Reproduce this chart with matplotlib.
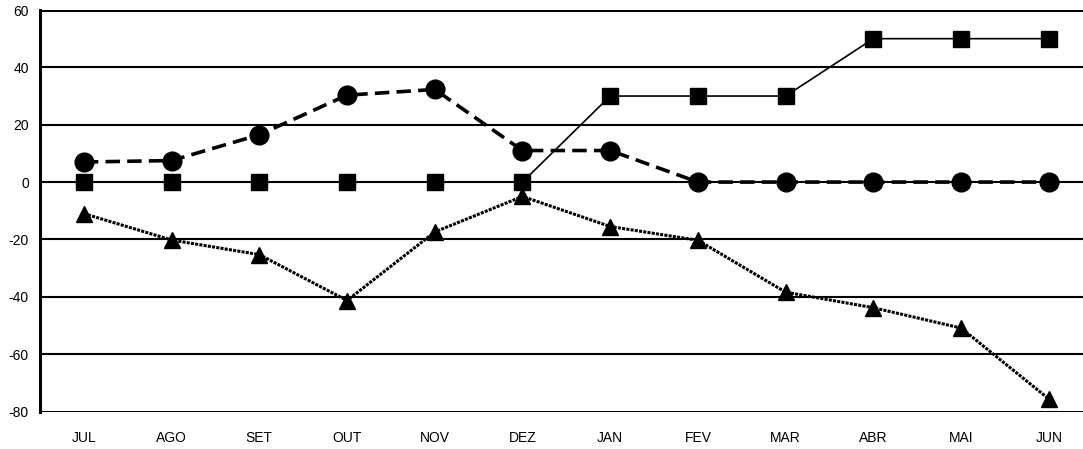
import numpy as np
import matplotlib
matplotlib.use("Agg")
import matplotlib.pyplot as plt

plt.rcParams['font.family'] = ['Liberation Sans', 'DejaVu Sans']
plt.rcParams['axes.unicode_minus'] = False

meses = ['JUL', 'AGO', 'SET', 'OUT', 'NOV', 'DEZ', 'JAN', 'FEV', 'MAR', 'ABR', 'MAI', 'JUN']
quadrados = [0, 0, 0, 0, 0, 0, 30, 30, 30, 50, 50, 50]
circulos = [7, 7.5, 16.5, 30.3, 32.3, 11, 11, 0, 0, 0, 0, 0]
triangulos = [-11, -20.2, -25.3, -41.3, -17.4, -5, -15.5, -20.3, -38.4, -43.8, -50.9, -75.6]
y_ticks = [-80, -60, -40, -20, 0, 20, 40, 60]


def main():
    fig = plt.figure(figsize=(10.83, 4.49), dpi=100)
    ax = fig.add_axes([40 / 1083, 1 - 411.5 / 449, 1 - 40 / 1083, (411.5 - 10) / 449])
    x = np.arange(len(meses))

    # linhas de grade horizontais
    for v in y_ticks:
        lw = 2.2 if v in (-80, 60) else 1.5
        ax.axhline(v, color='black', lw=lw, zorder=1)

    ax.plot(x, quadrados, '-', color='black', lw=1.2, marker='s', ms=12, zorder=3)
    ax.plot(x, circulos, color='black', lw=2.6, ls=(0, (4, 2)), marker='o', ms=13.5, zorder=3)
    ax.plot(x, triangulos, color='black', lw=2.2, ls=(0, (1, 0.4)), marker='^', ms=12, zorder=3)

    ax.set_xlim(-0.5, 11.39)
    ax.set_ylim(-80, 60)
    ax.set_xticks(x)
    ax.set_xticklabels(meses)
    ax.set_yticks(y_ticks)
    ax.tick_params(axis='both', length=0, labelsize=10)
    ax.tick_params(axis='x', pad=14)
    ax.tick_params(axis='y', pad=8)
    for s in ['top', 'right', 'bottom']:
        ax.spines[s].set_visible(False)
    ax.spines['left'].set_linewidth(2.2)

    fig.savefig('out.png', dpi=100)


if __name__ == "__main__":
    main()
